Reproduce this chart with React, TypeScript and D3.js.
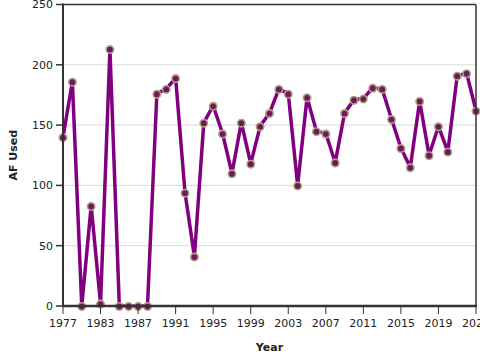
import React from "react";
import { scalePoint, scaleLinear, line } from "d3";

const years = [
  "1977", "1978", "1980", "1982", "1983", "1984", "1985", "1986", "1987", "1988",
  "1989", "1990", "1991", "1992", "1993", "1994", "1995", "1996", "1997", "1998",
  "1999", "2000", "2001", "2002", "2003", "2004", "2005", "2006", "2007", "2008",
  "2009", "2010", "2011", "2012", "2013", "2014", "2015", "2016", "2017", "2018",
  "2019", "2020", "2021", "2022", "2023",
];
const afUsed = [
  140, 186, 0, 83, 2, 213, 0, 0, 0, 0,
  176, 180, 189, 94, 41, 152, 166, 143, 110, 152,
  118, 149, 160, 180, 176, 100, 173, 145, 143, 119,
  160, 171, 172, 181, 180, 155, 131, 115, 170, 125,
  149, 128, 191, 193, 162,
];
const yTicks = [0, 50, 100, 150, 200, 250];

const App = () => {
  const width = 480;
  const height = 360;
  const left = 63;
  const right = 476;
  const top = 4.5;
  const bottom = 306;

  const x = scalePoint().domain(years).range([left, right]);
  const y = scaleLinear().domain([0, 250]).range([bottom, top]);

  const path = line<number>()
    .x((d, i) => x(years[i]) as number)
    .y(d => y(d))(afUsed);

  const font = "'DejaVu Sans', Verdana, sans-serif";
  const xTicks = years.filter((d, i) => i % 4 === 0);

  return (
    <svg
      width={width}
      height={height}
      style={{ position: "absolute", left: 0, top: 0, background: "white" }}
      fontFamily={font}
    >
      {yTicks.filter(t => t > 0 && t < 250).map(t => (
        <line key={t} x1={left} x2={right} y1={y(t)} y2={y(t)} stroke="#d9d9d9" strokeWidth={1} />
      ))}

      <path d={path || ""} fill="none" stroke="#800080" strokeWidth={3.5} strokeLinejoin="round" />
      {afUsed.map((d, i) => (
        <circle
          key={i}
          cx={x(years[i])}
          cy={y(d) + 0.5}
          r={3.7}
          fill="#6b1a5c"
          stroke="#b0a080"
          strokeWidth={1.6}
        />
      ))}

      {/* frame */}
      <line x1={left} x2={right} y1={top} y2={top} stroke="#333" strokeWidth={1.5} />
      <line x1={right} x2={right} y1={top} y2={bottom} stroke="#333" strokeWidth={1.5} />
      <line x1={left} x2={left} y1={top - 1} y2={bottom + 1} stroke="#333" strokeWidth={2} />
      <line x1={left - 1} x2={right + 1} y1={bottom} y2={bottom} stroke="#333" strokeWidth={2.5} />

      {yTicks.map(t => (
        <g key={t}>
          <line x1={left - 7} x2={left} y1={y(t)} y2={y(t)} stroke="#333" strokeWidth={1.5} />
          <text x={left - 10} y={y(t)} dy="0.35em" textAnchor="end" fontSize={11} fill="#222">
            {t}
          </text>
        </g>
      ))}

      {xTicks.map(t => (
        <g key={t}>
          <line x1={x(t)} x2={x(t)} y1={bottom} y2={bottom + 8} stroke="#333" strokeWidth={1} />
          <text x={x(t)} y={bottom + 21} textAnchor="middle" fontSize={11} fill="#222">
            {t}
          </text>
        </g>
      ))}

      <text x={(left + right) / 2} y={351} textAnchor="middle" fontSize={11} fontWeight="bold" fill="#222">
        Year
      </text>
      <text
        transform={`translate(17, ${(top + bottom) / 2}) rotate(-90)`}
        textAnchor="middle"
        fontSize={11}
        fontWeight="bold"
        fill="#222"
      >
        AF Used
      </text>
    </svg>
  );
};

export default App;
